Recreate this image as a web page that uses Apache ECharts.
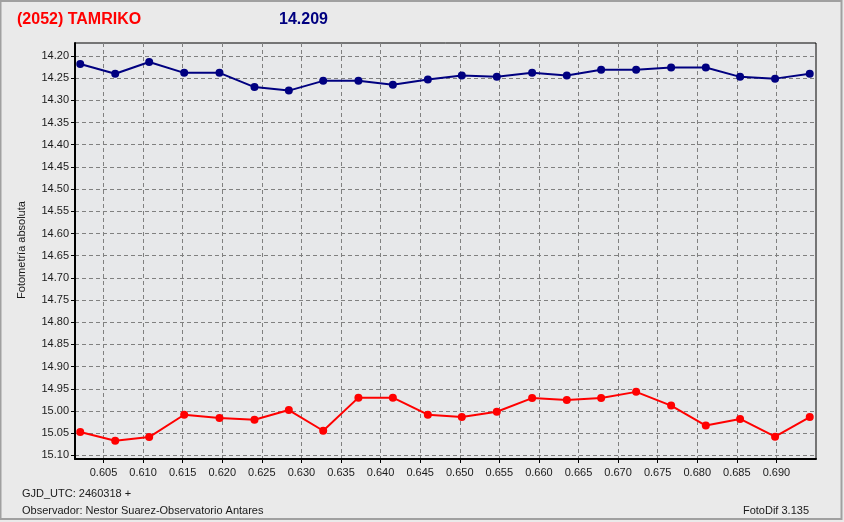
<!DOCTYPE html>
<html>
<head>
<meta charset="utf-8">
<script src="https://cdn.jsdelivr.net/npm/echarts@6/dist/echarts.min.js"></script>
<style>
html,body{margin:0;padding:0;background:#eaeaea;}
#c{width:844px;height:522px;}
</style>
</head>
<body>
<div id="c"></div>
<script>
// Fractional JD (GJD_UTC 2460318 +)
var xValues = [0.60206, 0.60648, 0.61077, 0.61519, 0.61965, 0.62407, 0.62841, 0.63275, 0.63720, 0.64155, 0.64597,
               0.65026, 0.65468, 0.65914, 0.66352, 0.66786, 0.67228, 0.67670, 0.68108, 0.68541, 0.68983, 0.69421];
// Target (blue) magnitudes
var blueMag = [14.218, 14.240, 14.2135, 14.238, 14.238, 14.270, 14.278, 14.256, 14.256, 14.265, 14.253,
               14.244, 14.247, 14.238, 14.244, 14.231, 14.231, 14.226, 14.226, 14.247, 14.251, 14.240];
// Comparison (red) magnitudes
var redMag = [15.0475, 15.0671, 15.0588, 15.0085, 15.016, 15.020, 14.998, 15.0446, 14.970, 14.970, 15.0085,
              15.0137, 15.0017, 14.971, 14.9754, 14.971, 14.957, 14.988, 15.033, 15.018, 15.058, 15.0137];
var xTicks = [0.605, 0.610, 0.615, 0.620, 0.625, 0.630, 0.635, 0.640, 0.645, 0.650, 0.655, 0.660, 0.665, 0.670, 0.675, 0.680, 0.685, 0.690];
var yTicks = [14.20, 14.25, 14.30, 14.35, 14.40, 14.45, 14.50, 14.55, 14.60, 14.65, 14.70, 14.75, 14.80, 14.85, 14.90, 14.95, 15.00, 15.05, 15.10];

function pairs(xs, ys){ return xs.map(function(x,i){ return [x, ys[i]]; }); }

var font = 'Liberation Sans, Arial, sans-serif';
var chart = echarts.init(document.getElementById('c'));
chart.setOption({
  backgroundColor: '#eaeaea',
  animation: false,
  grid: {left: 75, top: 43, right: 28, bottom: 63, show: true, borderColor: '#000', borderWidth: 1, backgroundColor: '#e7e8ea'},
  xAxis: {
    type: 'value', min: 0.6014, max: 0.6950,
    axisLine: {onZero: false, lineStyle: {color: '#000', width: 2}},
    axisTick: {show: true, customValues: xTicks, length: 4, lineStyle: {color: '#000'}},
    minorTick: {show: false},
    axisLabel: {customValues: xTicks, color: '#1a1a1a', fontSize: 11, fontFamily: font, margin: 8,
      formatter: function(v){ return v.toFixed(3); }},
    splitLine: {show: true, lineStyle: {color: '#808080', type: [4, 3], width: 1}}
  },
  yAxis: {
    type: 'value', inverse: true, min: 14.1707, max: 15.1083,
    axisLine: {show: true, lineStyle: {color: '#000', width: 2}},
    axisTick: {show: true, customValues: yTicks, length: 4, lineStyle: {color: '#000'}},
    axisLabel: {customValues: yTicks, color: '#1a1a1a', fontSize: 11, fontFamily: font, margin: 6,
      formatter: function(v){ return v.toFixed(2); }},
    splitLine: {show: true, lineStyle: {color: '#808080', type: [4, 3], width: 1}}
  },
  series: [
    {type: 'line', data: pairs(xValues, blueMag), color: '#000080', symbol: 'circle', symbolSize: 8,
     lineStyle: {width: 2, color: '#000080'}, itemStyle: {color: '#000080'}},
    {type: 'line', data: pairs(xValues, redMag), color: '#ff0000', symbol: 'circle', symbolSize: 8,
     lineStyle: {width: 2, color: '#ff0000'}, itemStyle: {color: '#ff0000'}}
  ],
  graphic: [
    {type: 'rect', shape: {x: 0.5, y: 1, width: 841, height: 518}, style: {fill: 'none', stroke: '#a0a0a0', lineWidth: 2}, silent: true},
    {type: 'text', left: 17, top: 12, style: {text: '(2052) TAMRIKO', fill: '#ff0000', font: 'bold 16px ' + font}},
    {type: 'text', left: 279, top: 12, style: {text: '14.209', fill: '#000080', font: 'bold 16px ' + font}},
    {type: 'text', x: 22, y: 250, rotation: Math.PI / 2, style: {text: 'Fotometría absoluta', fill: '#1a1a1a', font: '11px ' + font, align: 'center', verticalAlign: 'middle'}},
    {type: 'text', left: 22, top: 488, style: {text: 'GJD_UTC: 2460318 +', fill: '#1a1a1a', font: '11px ' + font}},
    {type: 'text', left: 22, top: 505, style: {text: 'Observador: Nestor Suarez-Observatorio Antares', fill: '#1a1a1a', font: '11px ' + font}},
    {type: 'text', right: 35, top: 505, style: {text: 'FotoDif 3.135', fill: '#1a1a1a', font: '11px ' + font}}
  ]
});
</script>
</body>
</html>
